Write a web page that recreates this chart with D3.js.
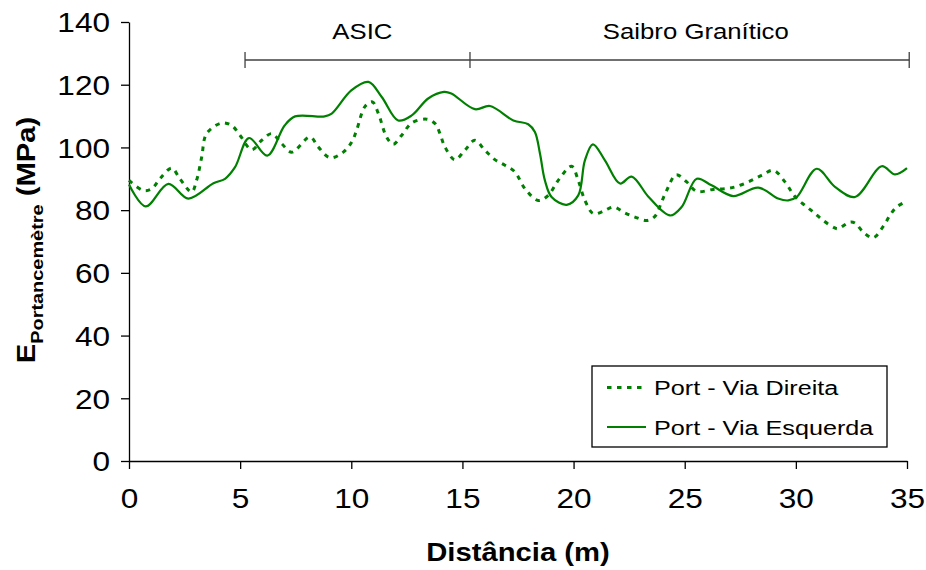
<!DOCTYPE html>
<html>
<head>
<meta charset="utf-8">
<script src="https://cdn.jsdelivr.net/npm/d3@7/dist/d3.min.js"></script>
<style>
  html, body { margin: 0; padding: 0; background: #fff; }
  svg { display: block; }
  text { font-family: "Liberation Sans", Arial, sans-serif; fill: #000; }
</style>
</head>
<body>
<svg id="chart" width="926" height="570"></svg>
<script>
// Portancemeter modulus along the road, [distance (m), E (MPa)]
const viaDireita = [
  [0, 89.5], [0.64, 86.3], [1.02, 86.8], [1.39, 90], [1.92, 93.4], [2.29, 90],
  [2.82, 85.8], [3.04, 89.5], [3.27, 96.9], [3.49, 104.4], [4.17, 107.8], [4.62, 107],
  [4.99, 103.9], [5.52, 99.3], [5.97, 102.3], [6.42, 104.4], [6.87, 101.2], [7.32, 98.5],
  [8.14, 103.3], [8.52, 100.1], [9.04, 96.7], [9.64, 98.5], [10.02, 101.7], [10.24, 105.5],
  [10.62, 113.1], [10.95, 114.5], [11.22, 110.8], [11.59, 103.3], [11.89, 101], [12.27, 103.9],
  [12.72, 107.8], [13.39, 109], [13.77, 107.6], [13.99, 104.4], [14.21, 100.2], [14.66, 96.1],
  [15.11, 99.1], [15.56, 102.3], [16.01, 99.1], [16.46, 96.1], [16.91, 94.3], [17.36, 92.2],
  [17.81, 86.9], [18.41, 83.1], [18.86, 84.7], [19.31, 89.5], [19.91, 94], [20.21, 89.5],
  [20.51, 83.1], [20.89, 78.9], [21.41, 79.9], [21.79, 81], [22.31, 79.1], [22.76, 77.8],
  [23.29, 76.7], [23.66, 78], [23.96, 82.6], [24.19, 86.3], [24.61, 91.3], [25.09, 89],
  [25.54, 86], [26.28, 86.6], [26.89, 86.9], [27.26, 87.4], [27.86, 89], [28.46, 91.1],
  [28.99, 92.7], [29.51, 89], [29.81, 85.8], [30.04, 83.7], [30.41, 81.5], [30.78, 79.4],
  [31.23, 76.7], [31.76, 74.3], [31.91, 74.1], [32.43, 76.2], [32.66, 75.9], [33.03, 73],
  [33.48, 71.2], [33.93, 74.8], [34.23, 78.3], [34.53, 81], [35, 82.9]
];

const viaEsquerda = [
  [0, 88.2], [0.75, 81.2], [1.77, 88.4], [2.67, 83.7], [3.8, 88.6], [4.32, 90],
  [4.77, 93.7], [5.4, 103], [6.22, 97.4], [7.0, 107], [7.47, 109.9], [8.8, 109.9],
  [9.12, 110.8], [10.0, 118.2], [10.77, 120.9], [11.37, 116.1], [12.11, 108.6], [12.72, 110.2],
  [13.46, 115.6], [14.17, 117.7], [14.5, 117.2], [15.56, 112.2], [16.24, 113.2], [17.29, 108.6],
  [17.96, 107.4], [18.26, 104.9], [18.49, 98], [18.71, 89.5], [19.01, 84.2], [19.69, 81.7],
  [20.21, 84.7], [20.51, 95.9], [20.87, 101], [21.41, 95.9], [22.09, 88.5], [22.61, 90.7],
  [23.4, 84], [24.34, 78.3], [24.86, 81], [25.54, 90], [26.21, 87.9], [27.18, 84.5],
  [28.31, 87.2], [29.2, 83.7], [29.66, 83.1], [30.04, 84.2], [30.94, 93.2], [31.76, 87.4],
  [32.66, 84.2], [33.86, 94], [34.46, 91.4], [35, 93.4]
];

const xTicks = [0, 5, 10, 15, 20, 25, 30, 35];
const yTicks = [0, 20, 40, 60, 80, 100, 120, 140];

// Pavement sections marked above the curves
const sectionNames = ["ASIC", "Saibro Granítico"];
const sectionBounds = [5.22, 15.34, 35.1];
const sectionLabelAt = [10.5, 25.5];

const seriesNames = ["Port - Via Direita", "Port - Via Esquerda"];

const green = "#008000";
const stretch = 1.17; // wide glyph proportions of the chart font

const svg = d3.select("#chart");
svg.append("rect").attr("width", 926).attr("height", 570).attr("fill", "#fff");

const x = d3.scaleLinear().domain([0, 35]).range([129, 907]);
const y = d3.scaleLinear().domain([0, 140]).range([461, 22]);

// Axes
const yAxis = svg.append("g")
  .attr("transform", `translate(${x(0)},0)`)
  .call(d3.axisLeft(y).tickValues(yTicks).tickSize(8).tickSizeOuter(0).tickPadding(8.2));
const xAxis = svg.append("g")
  .attr("transform", `translate(0,${y(0)})`)
  .call(d3.axisBottom(x).tickValues(xTicks).tickSize(8).tickSizeOuter(0));

[yAxis, xAxis].forEach(g => {
  g.select(".domain").attr("stroke", "#000").attr("stroke-width", 1.3);
  g.selectAll(".tick line").attr("stroke", "#000").attr("stroke-width", 1.3);
  g.selectAll(".tick text")
    .attr("font-family", "Liberation Sans, Arial, sans-serif")
    .attr("font-size", 27)
    .attr("fill", "#000");
});
yAxis.selectAll(".tick text").attr("dy", "0.36em").attr("transform", `scale(${stretch},1)`);
xAxis.selectAll(".tick text").attr("y", 47).attr("dy", 0).attr("transform", `scale(${stretch},1)`);

// Section brackets
const bracketY = 60;
const bracket = svg.append("g").attr("stroke", "#404040").attr("stroke-width", 1.3);
bracket.append("line")
  .attr("x1", x(sectionBounds[0])).attr("x2", x(sectionBounds[sectionBounds.length - 1]))
  .attr("y1", bracketY).attr("y2", bracketY);
sectionBounds.forEach(b => {
  bracket.append("line")
    .attr("x1", x(b)).attr("x2", x(b))
    .attr("y1", bracketY - 8).attr("y2", bracketY + 8);
});
sectionNames.forEach((name, i) => {
  svg.append("text")
    .attr("transform", `translate(${x(sectionLabelAt[i])},39) scale(${stretch},1)`)
    .attr("text-anchor", "middle")
    .attr("font-size", 22)
    .text(name);
});

// Curves
const line = d3.line()
  .x(d => x(d[0]))
  .y(d => y(d[1]))
  .curve(d3.curveCatmullRom.alpha(0.5));

svg.append("path")
  .datum(viaDireita)
  .attr("d", line)
  .attr("fill", "none")
  .attr("stroke", green)
  .attr("stroke-width", 3)
  .attr("stroke-dasharray", "4.5,5.5");

svg.append("path")
  .datum(viaEsquerda)
  .attr("d", line)
  .attr("fill", "none")
  .attr("stroke", green)
  .attr("stroke-width", 2.2);

// Legend
const legend = svg.append("g").attr("transform", "translate(592,366)");
legend.append("rect")
  .attr("width", 295).attr("height", 81)
  .attr("fill", "#fff").attr("stroke", "#000").attr("stroke-width", 1.3);
seriesNames.forEach((name, i) => {
  const rowY = 21.5 + i * 39.5;
  legend.append("line")
    .attr("x1", 15).attr("x2", 54)
    .attr("y1", rowY).attr("y2", rowY)
    .attr("stroke", green)
    .attr("stroke-width", i === 0 ? 3 : 2.2)
    .attr("stroke-dasharray", i === 0 ? "4.5,5.5" : null);
  legend.append("text")
    .attr("transform", `translate(62,${rowY + 7.5}) scale(1.2,1)`)
    .attr("font-size", 21)
    .text(name);
});

// Axis titles
svg.append("text")
  .attr("transform", `translate(${(x(0) + x(35)) / 2},560.5) scale(${stretch},1)`)
  .attr("text-anchor", "middle")
  .attr("font-size", 25)
  .attr("font-weight", "bold")
  .text("Distância (m)");

const yTitle = svg.append("text")
  .attr("transform", `translate(35,240) rotate(-90) scale(${stretch},1)`)
  .attr("text-anchor", "middle")
  .attr("font-size", 25)
  .attr("font-weight", "bold");
yTitle.append("tspan").text("E");
yTitle.append("tspan").attr("font-size", 17).attr("dy", 8).text("Portancemètre");
yTitle.append("tspan").attr("dy", -8).text(" (MPa)");
</script>
</body>
</html>
